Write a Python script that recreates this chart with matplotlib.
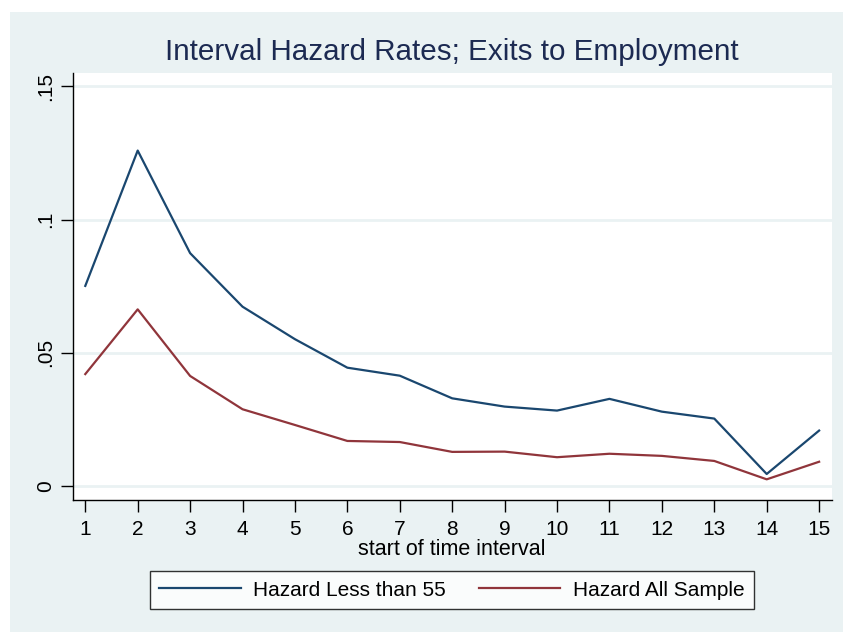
import matplotlib.pyplot as plt
import matplotlib.patches as patches

plt.rcParams['font.family'] = ['Liberation Sans', 'DejaVu Sans']

# data
intervals = list(range(1, 16))
hazard_lt55 = [0.0751, 0.1259, 0.0874, 0.0673, 0.0551, 0.0444, 0.0414, 0.0329,
               0.0298, 0.0283, 0.0327, 0.0279, 0.0253, 0.0045, 0.0208]
hazard_all = [0.0420, 0.0663, 0.0413, 0.0288, 0.0229, 0.0169, 0.0165, 0.0128,
              0.0129, 0.0108, 0.0121, 0.0113, 0.0094, 0.0025, 0.0091]
yticks = [0, 0.05, 0.1, 0.15]
ytick_labels = ['0', '.05', '.1', '.15']

bg = '#EAF2F3'
navy = '#1A476F'
maroon = '#90353B'

fig = plt.figure(figsize=(8.43, 6.32), dpi=100)
fig.patch.set_facecolor('white')
# Stata-style outer background, offset from top/left
fig.add_artist(patches.Rectangle((10 / 843, 0), 1 - 10 / 843, 1 - 12 / 632,
                                 transform=fig.transFigure, facecolor=bg,
                                 edgecolor='none', zorder=0))

ax = fig.add_axes([72.7 / 843, 132 / 632, (831.7 - 72.7) / 843, (500 - 73.3) / 632])
ax.set_facecolor('white')

ax.plot(intervals, hazard_lt55, color=navy, lw=1.6, label='Hazard Less than 55', zorder=3)
ax.plot(intervals, hazard_all, color=maroon, lw=1.6, label='Hazard All Sample', zorder=3)

ax.set_xlim(0.76, 15.24)
ax.set_ylim(-0.00526, 0.1549)
ax.set_xticks(intervals)
ax.set_yticks(yticks)
ax.set_yticklabels(ytick_labels, rotation=90, va='center')
for y in yticks:
    ax.axhline(y, color=bg, lw=2, zorder=1)

for s in ['top', 'right']:
    ax.spines[s].set_visible(False)
for s in ['left', 'bottom']:
    ax.spines[s].set_color('black')
    ax.spines[s].set_linewidth(1)
ax.tick_params(axis='both', direction='out', length=8.5, width=1, labelsize=15,
               colors='black')
ax.tick_params(axis='x', pad=6)
ax.tick_params(axis='y', pad=4)

ax.set_xlabel('start of time interval', fontsize=15.5, labelpad=0)
fig.text(452 / 843, 1 - 52 / 632, 'Interval Hazard Rates; Exits to Employment',
         ha='center', va='center', fontsize=21.3, color='#1C2A52')

leg = fig.legend(loc='center', bbox_to_anchor=(452 / 843, 1 - 590 / 632), ncol=2,
                 fontsize=15, frameon=True, fancybox=False, handlelength=3.9,
                 columnspacing=1.6, borderpad=0.45, handletextpad=0.6)
leg.get_frame().set_edgecolor('black')
leg.get_frame().set_linewidth(1)

fig.savefig('out.png', dpi=100, facecolor=fig.get_facecolor())
